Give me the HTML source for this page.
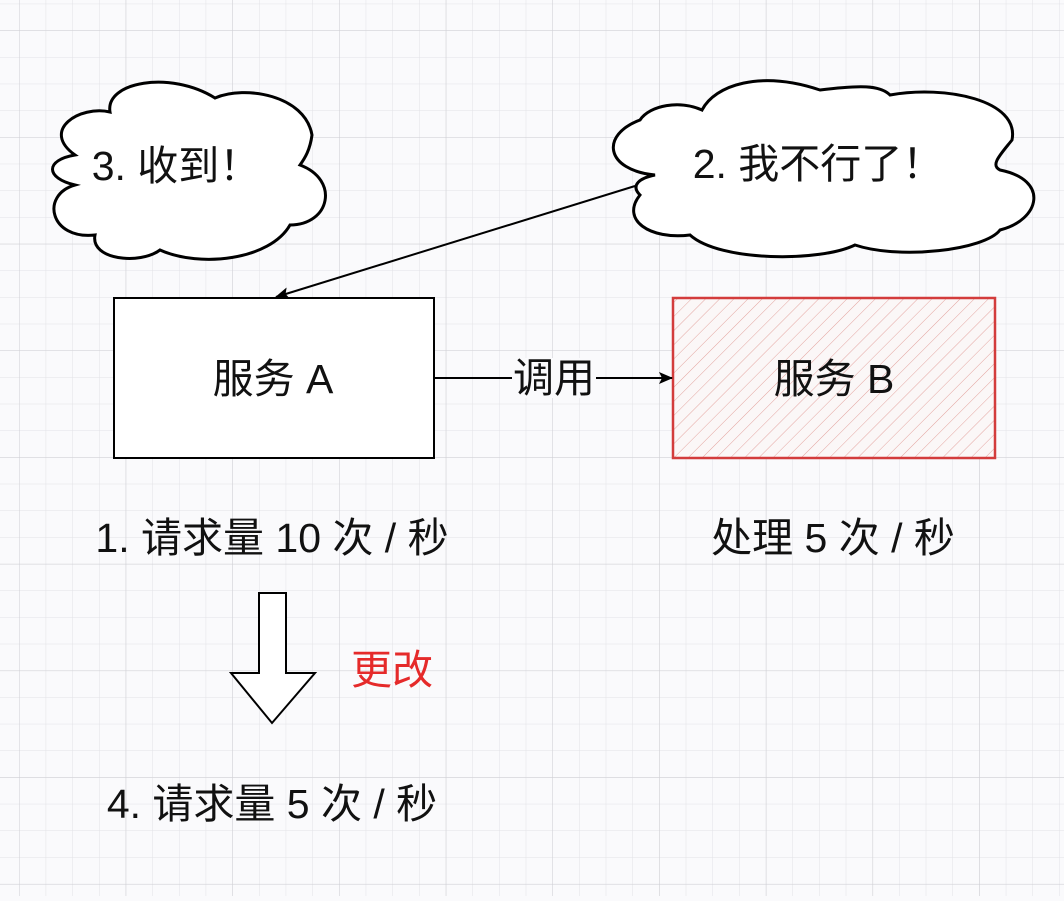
<!DOCTYPE html>
<html><head><meta charset="utf-8">
<style>
html,body{margin:0;padding:0;}
body{width:1064px;height:896px;overflow:hidden;background:#fafafc;}
svg text{font-family:"Liberation Sans","Noto Sans CJK SC",sans-serif;fill:#111;}
</style></head>
<body>
<svg width="1064" height="896" viewBox="0 0 1064 896" xmlns="http://www.w3.org/2000/svg">
<defs>
<pattern id="minor" x="19" y="3.7" width="26.67" height="26.67" patternUnits="userSpaceOnUse">
<path d="M0 0V26.67M0 0H26.67" stroke="#e2e2e6" stroke-width="1" fill="none"/>
</pattern>
<pattern id="major" x="19" y="30.4" width="106.7" height="106.7" patternUnits="userSpaceOnUse">
<path d="M0 0V106.7M0 0H106.7" stroke="#cfcfd4" stroke-width="1" fill="none"/>
</pattern>
<pattern id="hatch" width="10" height="10" patternUnits="userSpaceOnUse" patternTransform="rotate(45)">
<line x1="0" y1="0" x2="0" y2="10" stroke="#e4a5a0" stroke-width="1"/>
</pattern>
<marker id="ah" markerWidth="14" markerHeight="12" refX="13" refY="6" orient="auto" markerUnits="userSpaceOnUse">
<path d="M0 0L14 6L0 12L3 6Z" fill="#000"/>
</marker>
</defs>
<rect width="1064" height="896" fill="url(#minor)"/>
<rect width="1064" height="896" fill="url(#major)"/>

<!-- cloud 1 -->
<path d="M75 155 C40 130 80 105 110 112 C105 82 170 70 215 98 C245 85 305 95 312 135 C310 150 305 158 300 165 C340 180 330 225 290 225 C270 260 200 268 160 250 C140 265 90 260 95 235 C50 240 40 195 75 185 C45 178 45 160 75 155 Z" fill="#fff" stroke="#000" stroke-width="3"/>
<text x="176" y="180" font-size="41" text-anchor="middle">3. 收到！</text>

<!-- cloud 2 -->
<path d="M655 175 C605 170 600 135 640 120 C650 105 680 100 702 110 C715 85 760 70 820 90 C860 85 880 85 890 95 C945 85 1020 100 1012 140 C1000 155 990 165 1000 170 C1050 180 1040 220 1000 230 C985 250 900 260 855 245 C820 262 720 262 690 235 C650 240 620 220 640 195 C630 185 640 178 655 175 Z" fill="#fff" stroke="#000" stroke-width="3"/>
<text x="818" y="178" font-size="41" text-anchor="middle">2. 我不行了！</text>

<!-- arrow cloud2 -> A -->
<line x1="635" y1="186" x2="276" y2="297" stroke="#000" stroke-width="2" marker-end="url(#ah)"/>

<!-- box A -->
<rect x="114" y="298" width="320" height="160" fill="#fff" stroke="#000" stroke-width="2"/>
<text x="273" y="393" font-size="41" text-anchor="middle">服务 A</text>

<!-- box B -->
<rect x="673" y="298" width="322" height="160" fill="#fbf7f7" stroke="none"/>
<rect x="673" y="298" width="322" height="160" fill="url(#hatch)" stroke="#d33c3c" stroke-width="2.5"/>
<text x="834" y="393" font-size="41" text-anchor="middle">服务 B</text>

<!-- call arrow -->
<line x1="434" y1="378" x2="672" y2="378" stroke="#000" stroke-width="2" marker-end="url(#ah)"/>
<rect x="512" y="358" width="84" height="40" fill="#fafafc"/>
<text x="554" y="392" font-size="41" text-anchor="middle">调用</text>

<text x="272" y="552" font-size="41" text-anchor="middle">1. 请求量 10 次 / 秒</text>
<text x="833" y="552" font-size="41" text-anchor="middle">处理 5 次 / 秒</text>

<!-- hollow down arrow -->
<path d="M259 593 H286 V673 H315 L272 723 L231 673 H259 Z" fill="#fff" stroke="#000" stroke-width="2"/>
<text x="392" y="684" font-size="41" text-anchor="middle" style="fill:#e52a2a">更改</text>

<text x="272" y="818" font-size="41" text-anchor="middle">4. 请求量 5 次 / 秒</text>
</svg>
</body></html>
